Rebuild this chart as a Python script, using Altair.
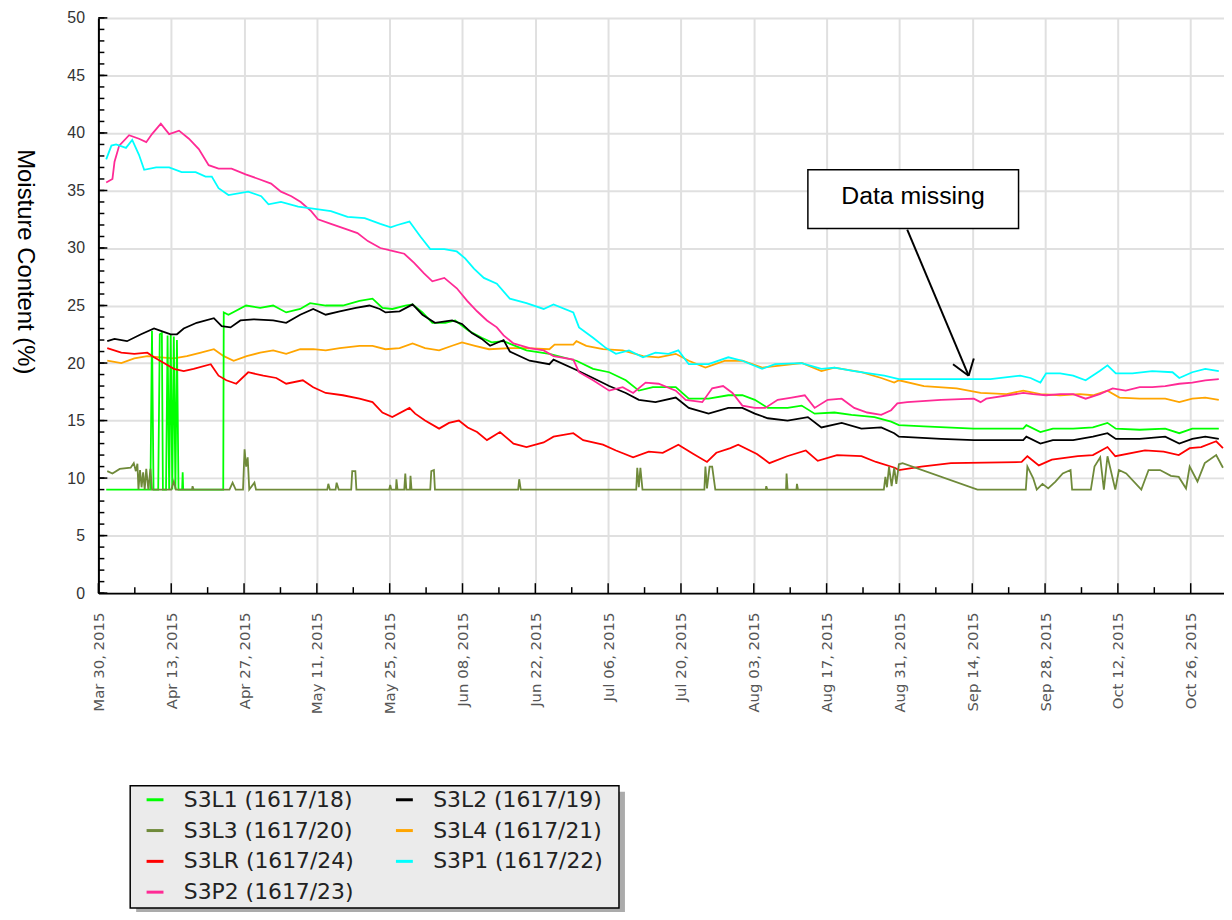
import json
import altair as alt
import pandas as pd

# ---------------- data (x = days after Mar 30, 2015; y = moisture %) ----------------
series_names = ["S3L1 (1617/18)", "S3L2 (1617/19)", "S3L3 (1617/20)", "S3L4 (1617/21)",
                "S3LR (1617/24)", "S3P1 (1617/22)", "S3P2 (1617/23)"]
series_colors = ["#00ff00", "#000000", "#6f8a3a", "#ffa500", "#ff0000", "#00ffff", "#ff2a95"]

S3L1 = [(1.5, 9.0), (10.0, 9.0), (10.3, 22.8), (10.6, 9.0), (11.5, 9.0), (11.8, 22.5), (12.2, 22.6),
        (12.4, 9.0), (13.0, 9.0), (13.3, 22.4), (13.6, 9.0), (13.9, 22.5), (14.2, 9.0), (14.5, 22.3),
        (14.8, 9.0), (15.1, 22.0), (15.4, 9.0), (16.1, 9.0), (16.2, 10.5), (16.3, 9.0), (24.0, 9.0),
        (24.1, 24.4), (25.0, 24.2), (28.4, 25.0), (31.1, 24.8), (33.6, 25.0), (36.1, 24.4), (38.8, 24.7),
        (40.7, 25.2), (43.7, 25.0), (47.0, 25.0), (50.2, 25.4), (52.7, 25.6), (54.6, 24.8), (56.5, 24.7),
        (59.0, 25.0), (60.4, 25.1), (62.3, 24.4), (64.2, 23.5), (66.7, 23.5), (68.6, 23.7), (71.2, 22.8),
        (73.7, 22.2), (75.6, 21.8), (77.9, 21.9), (82.3, 21.1), (86.7, 20.8), (91.9, 20.2), (95.1, 19.5),
        (98.2, 19.2), (101.4, 18.5), (103.9, 17.6), (106.6, 17.9), (111.0, 17.9), (113.5, 16.9),
        (117.3, 16.9), (121.1, 17.2), (123.8, 17.2), (126.2, 16.8), (128.7, 16.1), (132.5, 16.1),
        (135.2, 16.3), (137.7, 15.6), (141.5, 15.7), (144.8, 15.5), (149.2, 15.3), (152.4, 14.9),
        (153.9, 14.6), (158.7, 14.5), (168.3, 14.3), (177.8, 14.3), (178.4, 14.6), (181.1, 14.0),
        (183.5, 14.3), (187.4, 14.3), (191.2, 14.4), (194.0, 14.8), (195.6, 14.3), (200.2, 14.2),
        (205.1, 14.3), (207.8, 13.9), (210.3, 14.3), (215.4, 14.3)]

S3L2 = [(1.7, 21.9), (3.1, 22.1), (5.5, 21.9), (8.2, 22.5), (10.7, 23.0), (12.0, 22.8), (13.9, 22.5),
        (15.1, 22.5), (16.4, 23.0), (18.9, 23.5), (22.2, 23.9), (23.7, 23.2), (25.4, 23.1), (27.3, 23.7),
        (29.8, 23.8), (33.6, 23.7), (36.1, 23.5), (38.8, 24.2), (41.3, 24.7), (43.7, 24.2), (46.4, 24.5),
        (49.5, 24.8), (52.1, 25.0), (54.1, 24.7), (55.2, 24.4), (57.9, 24.5), (60.4, 25.1), (62.3, 24.2),
        (64.7, 23.5), (68.0, 23.7), (69.9, 23.4), (71.8, 22.6), (73.7, 22.1), (75.3, 21.5), (77.9, 22.0),
        (79.1, 21.0), (82.9, 20.2), (86.7, 19.9), (87.5, 20.3), (91.9, 19.4), (95.1, 18.7), (98.2, 18.0),
        (101.4, 17.4), (103.9, 16.8), (107.1, 16.6), (111.0, 17.0), (113.5, 16.1), (117.3, 15.6),
        (121.1, 16.1), (123.8, 16.1), (126.2, 15.6), (128.7, 15.2), (132.5, 15.0), (136.4, 15.3),
        (139.0, 14.4), (142.9, 14.8), (146.7, 14.3), (150.5, 14.4), (153.0, 13.9), (153.9, 13.6),
        (162.0, 13.4), (168.3, 13.3), (177.8, 13.3), (178.4, 13.6), (181.1, 13.0), (183.5, 13.3),
        (187.4, 13.3), (191.2, 13.6), (194.0, 13.9), (195.6, 13.4), (200.2, 13.4), (205.1, 13.6),
        (207.8, 13.0), (210.3, 13.4), (212.8, 13.6), (215.4, 13.4)]

S3L3 = [(1.7, 10.6), (2.7, 10.4), (4.1, 10.8), (6.2, 10.9), (6.8, 11.3), (7.2, 10.6), (7.5, 11.25),
        (7.7, 9.0), (8.0, 10.7), (8.3, 9.2), (8.6, 10.5), (8.9, 9.0), (9.2, 10.8), (9.6, 9.0), (10.0, 10.8),
        (10.3, 9.0), (14.0, 9.0), (14.5, 9.7), (14.9, 9.0), (18.0, 9.0), (18.1, 9.3), (18.3, 9.0),
        (25.2, 9.0), (25.8, 9.6), (26.4, 9.0), (27.8, 9.0), (28.1, 12.5), (28.4, 11.0), (28.7, 11.8),
        (29.0, 9.0), (30.0, 9.6), (30.3, 9.0), (44.0, 9.0), (44.2, 9.5), (44.5, 9.0), (45.6, 9.0),
        (45.8, 9.6), (46.2, 9.0), (48.6, 9.0), (48.8, 10.6), (49.4, 10.6), (49.6, 9.0), (55.9, 9.0),
        (56.1, 9.4), (56.3, 9.0), (57.2, 9.0), (57.3, 9.9), (57.5, 9.0), (58.8, 9.0), (59.0, 10.4),
        (59.2, 9.0), (59.9, 9.0), (60.0, 10.2), (60.2, 9.0), (63.8, 9.0), (64.0, 10.6), (64.5, 10.7),
        (64.7, 9.0), (80.7, 9.0), (80.9, 9.9), (81.2, 9.0), (103.4, 9.0), (103.6, 10.9), (103.9, 9.2),
        (104.2, 10.9), (104.6, 9.0), (116.5, 9.0), (116.7, 11.0), (117.0, 9.1), (117.5, 11.0),
        (118.0, 11.0), (118.6, 9.0), (128.3, 9.0), (128.4, 9.3), (128.6, 9.0), (132.2, 9.0),
        (132.3, 10.4), (132.5, 9.0), (134.2, 9.0), (134.3, 9.5), (134.5, 9.0), (151.0, 9.0),
        (151.3, 10.1), (151.6, 9.2), (152.0, 11.0), (152.5, 9.3), (153.0, 10.9), (153.4, 9.5),
        (153.9, 11.2), (154.6, 11.3), (169.0, 9.0), (178.3, 9.0), (178.6, 11.0), (179.7, 10.0),
        (180.4, 9.0), (181.5, 9.5), (182.6, 9.1), (184.0, 9.7), (185.4, 10.4), (186.9, 10.7),
        (187.2, 9.0), (190.8, 9.0), (191.5, 11.0), (192.6, 11.8), (193.3, 9.0), (194.0, 11.9),
        (195.5, 9.0), (196.2, 10.7), (197.6, 10.4), (200.5, 9.0), (201.9, 10.7), (204.1, 10.7),
        (206.2, 10.2), (207.7, 10.1), (209.1, 9.1), (209.8, 11.0), (211.3, 9.7), (212.7, 11.3),
        (214.9, 12.0), (216.2, 10.9)]

S3L4 = [(1.7, 20.2), (4.4, 20.0), (6.9, 20.4), (9.4, 20.6), (12.0, 20.5), (14.5, 20.4), (17.0, 20.6),
        (19.7, 20.9), (22.2, 21.2), (24.1, 20.6), (26.0, 20.2), (28.5, 20.6), (31.1, 20.9), (33.6, 21.1),
        (36.1, 20.8), (38.8, 21.2), (41.3, 21.2), (43.7, 21.1), (46.4, 21.3), (50.2, 21.5), (52.7, 21.5),
        (55.2, 21.2), (57.9, 21.3), (60.4, 21.7), (62.8, 21.3), (65.5, 21.1), (68.0, 21.5), (69.9, 21.8),
        (72.4, 21.5), (75.1, 21.2), (79.1, 21.3), (82.3, 21.3), (86.7, 21.2), (87.7, 21.6), (91.3, 21.6),
        (91.9, 21.9), (93.8, 21.5), (97.0, 21.2), (100.8, 21.1), (104.7, 20.6), (107.7, 20.5),
        (111.0, 20.8), (113.5, 20.2), (116.7, 19.6), (120.5, 20.2), (123.8, 20.2), (127.6, 19.6),
        (131.4, 19.8), (135.2, 20.0), (139.0, 19.3), (141.5, 19.6), (142.9, 19.5), (146.7, 19.2),
        (150.5, 18.7), (153.0, 18.3), (153.9, 18.5), (158.7, 18.0), (165.0, 17.8), (169.6, 17.4),
        (174.6, 17.3), (177.8, 17.6), (181.1, 17.3), (184.9, 17.2), (188.7, 17.3), (191.2, 17.2),
        (194.0, 17.6), (196.3, 17.0), (200.2, 16.9), (205.1, 16.9), (207.8, 16.6), (210.3, 16.9),
        (212.8, 17.0), (215.4, 16.8)]

S3LR = [(1.7, 21.3), (4.4, 20.9), (6.9, 20.8), (9.4, 20.9), (10.7, 20.5), (12.6, 20.0), (14.5, 19.5),
        (16.4, 19.3), (18.3, 19.5), (21.6, 19.9), (23.1, 18.9), (24.6, 18.5), (26.5, 18.2), (28.8, 19.2),
        (31.7, 18.9), (34.2, 18.7), (36.1, 18.2), (39.3, 18.5), (41.3, 17.9), (43.7, 17.4), (47.0, 17.2),
        (50.2, 16.9), (52.7, 16.6), (54.6, 15.7), (56.5, 15.3), (59.8, 16.1), (60.9, 15.6), (62.8, 15.0),
        (65.5, 14.3), (67.4, 14.8), (69.3, 15.0), (71.0, 14.4), (72.8, 14.0), (74.7, 13.3), (77.2, 14.0),
        (79.8, 13.0), (82.3, 12.7), (85.6, 13.1), (87.5, 13.6), (91.3, 13.9), (93.2, 13.3), (97.0, 12.9),
        (99.5, 12.4), (102.8, 11.8), (105.8, 12.3), (108.5, 12.2), (111.5, 12.9), (114.4, 12.1),
        (117.0, 11.4), (118.8, 12.2), (121.5, 12.6), (123.0, 12.9), (126.6, 12.1), (129.0, 11.3),
        (132.4, 11.9), (136.0, 12.4), (138.3, 11.5), (142.0, 12.0), (146.7, 11.9), (149.5, 11.4),
        (153.1, 10.9), (153.9, 10.7), (158.2, 11.0), (163.9, 11.3), (177.5, 11.4), (178.6, 11.9),
        (180.8, 11.1), (183.3, 11.6), (188.3, 11.9), (191.2, 12.0), (194.0, 12.7), (195.5, 11.9),
        (201.2, 12.4), (204.8, 12.3), (207.7, 12.0), (209.8, 12.6), (212.0, 12.7), (214.9, 13.2),
        (216.2, 12.6)]

S3P1 = [(1.5, 37.7), (2.5, 38.9), (3.4, 39.0), (5.3, 38.7), (6.5, 39.4), (7.8, 38.1), (8.8, 36.8),
        (11.1, 37.0), (13.6, 37.0), (16.0, 36.6), (18.7, 36.6), (20.6, 36.2), (21.8, 36.2), (23.1, 35.2),
        (25.0, 34.6), (28.8, 34.9), (31.3, 34.5), (32.7, 33.8), (35.1, 34.0), (38.4, 33.6), (41.6, 33.4),
        (44.7, 33.2), (47.9, 32.7), (51.2, 32.6), (54.2, 32.1), (56.2, 31.8), (57.5, 32.0), (59.8, 32.3),
        (61.9, 31.0), (63.8, 29.9), (66.5, 29.9), (68.9, 29.7), (70.5, 29.1), (72.2, 28.2), (74.1, 27.4),
        (76.6, 26.9), (79.1, 25.6), (82.3, 25.2), (85.6, 24.7), (87.5, 25.1), (91.3, 24.4), (92.4, 23.1),
        (95.1, 22.2), (97.6, 21.3), (99.5, 20.8), (102.0, 21.1), (104.7, 20.5), (107.1, 20.9),
        (109.6, 20.8), (111.5, 21.1), (113.5, 19.9), (117.3, 19.9), (121.1, 20.5), (123.8, 20.2),
        (127.6, 19.5), (130.1, 19.9), (135.2, 20.0), (139.0, 19.5), (141.5, 19.6), (145.3, 19.3),
        (151.1, 18.9), (153.9, 18.6), (162.0, 18.6), (171.5, 18.6), (177.2, 18.9), (179.2, 18.7),
        (181.1, 18.3), (182.2, 19.1), (184.9, 19.1), (187.4, 18.9), (189.8, 18.5), (192.5, 19.3),
        (194.0, 19.8), (195.6, 19.1), (198.8, 19.1), (202.6, 19.3), (206.5, 19.2), (207.8, 18.7),
        (210.3, 19.2), (212.8, 19.5), (215.4, 19.3)]

S3P2 = [(1.5, 35.7), (2.7, 36.0), (3.1, 37.5), (4.0, 38.9), (5.9, 39.8), (7.8, 39.5), (9.2, 39.2),
        (10.3, 39.9), (12.0, 40.8), (13.6, 39.9), (15.5, 40.2), (17.4, 39.5), (19.3, 38.6), (21.2, 37.2),
        (23.1, 36.9), (25.6, 36.9), (28.3, 36.4), (30.8, 36.0), (33.2, 35.6), (35.1, 34.9), (37.1, 34.5),
        (38.9, 34.0), (40.9, 33.2), (42.2, 32.5), (44.7, 32.1), (47.9, 31.6), (49.8, 31.3), (51.8, 30.6),
        (54.2, 30.0), (56.9, 29.7), (58.8, 29.5), (60.7, 28.7), (62.6, 27.8), (64.2, 27.1), (66.5, 27.4),
        (68.9, 26.5), (70.9, 25.4), (72.8, 24.5), (74.7, 23.7), (76.6, 23.1), (77.9, 22.4), (79.8, 21.7),
        (82.9, 21.3), (85.6, 21.1), (87.5, 20.6), (91.3, 20.3), (92.4, 19.2), (95.1, 18.5), (98.2, 17.6),
        (100.8, 17.9), (102.8, 17.4), (105.2, 18.3), (107.7, 18.2), (111.0, 17.6), (112.9, 16.8),
        (116.1, 16.6), (118.0, 17.8), (120.1, 18.0), (121.9, 17.4), (123.8, 16.3), (126.2, 16.1),
        (128.2, 16.1), (130.6, 16.8), (133.3, 17.0), (135.8, 17.2), (137.7, 16.1), (140.2, 16.8),
        (142.9, 16.9), (145.3, 16.1), (147.8, 15.7), (150.5, 15.5), (152.4, 15.9), (153.6, 16.5),
        (155.5, 16.6), (162.0, 16.8), (168.3, 16.9), (169.6, 16.6), (170.7, 16.9), (177.8, 17.4),
        (179.7, 17.3), (182.2, 17.2), (184.9, 17.3), (187.4, 17.3), (189.8, 16.9), (192.5, 17.3),
        (195.0, 17.8), (197.5, 17.6), (200.2, 17.9), (202.6, 17.9), (205.1, 18.0), (207.8, 18.2),
        (210.3, 18.3), (212.8, 18.5), (215.4, 18.6)]

# tick positions (days after Mar 30, 2015) and their labels
x_tick_days = list(range(0, 211, 14))
x_minor_days = list(range(7, 211, 14))
x_tick_labels = ["Mar 30, 2015", "Apr 13, 2015", "Apr 27, 2015", "May 11, 2015", "May 25, 2015",
                 "Jun 08, 2015", "Jun 22, 2015", "Jul 06, 2015", "Jul 20, 2015", "Aug 03, 2015",
                 "Aug 17, 2015", "Aug 31, 2015", "Sep 14, 2015", "Sep 28, 2015", "Oct 12, 2015",
                 "Oct 26, 2015"]
y_tick_values = list(range(0, 51, 5))
y_minor_values = list(range(0, 51))

# annotation
note_label = "Data missing"
note_box = {"day": 136.4, "day2": 176.9, "value": 36.8, "value2": 31.7}
note_text_pos = {"day": 156.6, "value": 33.8}
arrow_segments = [(155.5, 31.6, 167.3, 18.9), (167.3, 18.9, 164.3, 19.9), (167.3, 18.9, 168.3, 20.4)]

# ---------------- build table ----------------
by_name = dict(zip(series_names, [S3L1, S3L2, S3L3, S3L4, S3LR, S3P1, S3P2]))
draw_order = ["S3L4 (1617/21)", "S3L1 (1617/18)", "S3L2 (1617/19)", "S3LR (1617/24)",
              "S3L3 (1617/20)", "S3P2 (1617/23)", "S3P1 (1617/22)"]
rows = []
for name in draw_order:
    for d, v in by_name[name]:
        rows.append({"day": d, "value": v, "series": name})
df = pd.DataFrame(rows)

W, H = 1133, 579
x_scale = alt.Scale(domain=[0, 216.4], nice=False, zero=False)
y_scale = alt.Scale(domain=[0, 50], nice=False, zero=False)
GRID = "#e0e0e0"

x_axis = alt.Axis(values=x_tick_days,
                  labelExpr=json.dumps(x_tick_labels) + "[round(datum.value / 14)]",
                  labelAngle=270, labelAlign="right", labelBaseline="middle", labelPadding=19,
                  labelFont="DejaVu Sans", labelFontSize=15, labelColor="#555555",
                  labelFlush=False, labelOverlap=False, ticks=False,
                  domainColor="#000000", domainWidth=2,
                  grid=True, gridColor=GRID, gridWidth=2, title=None)
y_axis = alt.Axis(values=y_tick_values, labelFont="Liberation Sans", labelFontSize=16,
                  labelColor="#333333", labelPadding=14, ticks=False,
                  domainColor="#000000", domainWidth=2,
                  grid=True, gridColor=GRID, gridWidth=2,
                  title="Moisture Content (%)", titleFont="Liberation Sans", titleFontSize=24,
                  titleFontWeight="normal", titleColor="#000000", titleAngle=90,
                  titleX=-74, titleY=245, titleAlign="center", titleBaseline="middle")

lines = alt.Chart(df).mark_line(strokeWidth=1.8, clip=True).encode(
    x=alt.X("day:Q", scale=x_scale, axis=x_axis),
    y=alt.Y("value:Q", scale=y_scale, axis=y_axis),
    color=alt.Color("series:N",
                    scale=alt.Scale(domain=series_names, range=series_colors),
                    legend=alt.Legend(title=None, orient="none", legendX=32, legendY=771,
                                      columns=2, direction="horizontal",
                                      symbolType="stroke", symbolSize=289,
                                      symbolStrokeWidth=3, symbolOffset=9,
                                      labelFont="DejaVu Sans", labelFontSize=22,
                                      labelColor="#222222", labelOffset=18, labelLimit=0,
                                      columnPadding=30, rowPadding=9, padding=5)),
)

# legend frame and its drop shadow (drawn under the legend entries)
legend_shadow = alt.Chart(pd.DataFrame({"k": [0]})).mark_rect(color="#ababab").encode(
    x=alt.value(38), x2=alt.value(530), y=alt.value(779), y2=alt.value(902))
legend_frame = alt.Chart(pd.DataFrame({"k": [0]})).mark_rect(
    fill="#ebebeb", stroke="#000000", strokeWidth=1.5).encode(
    x=alt.value(32), x2=alt.value(524), y=alt.value(773), y2=alt.value(896))

y_minor = alt.Chart(pd.DataFrame({"value": y_minor_values})).mark_rule(
    color="#000000", strokeWidth=1.5).encode(
    y=alt.Y("value:Q", scale=y_scale), x=alt.value(0), x2=alt.value(6))
y_major = alt.Chart(pd.DataFrame({"value": y_tick_values})).mark_rule(
    color="#000000", strokeWidth=1.5).encode(
    y=alt.Y("value:Q", scale=y_scale), x=alt.value(0), x2=alt.value(9))
x_minor = alt.Chart(pd.DataFrame({"day": x_minor_days})).mark_rule(
    color="#000000", strokeWidth=1.5).encode(
    x=alt.X("day:Q", scale=x_scale), y=alt.value(H), y2=alt.value(H - 6))
x_major = alt.Chart(pd.DataFrame({"day": x_tick_days})).mark_rule(
    color="#000000", strokeWidth=1.5).encode(
    x=alt.X("day:Q", scale=x_scale), y=alt.value(H), y2=alt.value(H - 10))

box = alt.Chart(pd.DataFrame([note_box])).mark_rect(
    fill="#ffffff", stroke="#000000", strokeWidth=1.5).encode(
    x=alt.X("day:Q", scale=x_scale), x2="day2:Q",
    y=alt.Y("value:Q", scale=y_scale), y2="value2:Q")
box_text = alt.Chart(pd.DataFrame([dict(note_text_pos, label=note_label)])).mark_text(
    font="Liberation Sans", fontSize=25, align="center", baseline="alphabetic",
    color="#000000").encode(
    x=alt.X("day:Q", scale=x_scale),
    y=alt.Y("value:Q", scale=y_scale), text="label:N")
arrow = alt.Chart(pd.DataFrame(arrow_segments, columns=["day", "value", "day2", "value2"])).mark_rule(
    color="#000000", strokeWidth=2).encode(
    x=alt.X("day:Q", scale=x_scale), x2="day2:Q",
    y=alt.Y("value:Q", scale=y_scale), y2="value2:Q")

chart = alt.layer(legend_shadow, legend_frame, lines, y_minor, y_major, x_minor, x_major,
                  arrow, box, box_text).properties(
    width=W, height=H,
    autosize=alt.AutoSizeParams(type="none"),
    padding={"left": 91, "top": 7, "right": 0, "bottom": 318},
    background="#ffffff",
).configure_view(stroke=None)

chart.save("out.html", embed_options={"renderer": "svg", "actions": False})
